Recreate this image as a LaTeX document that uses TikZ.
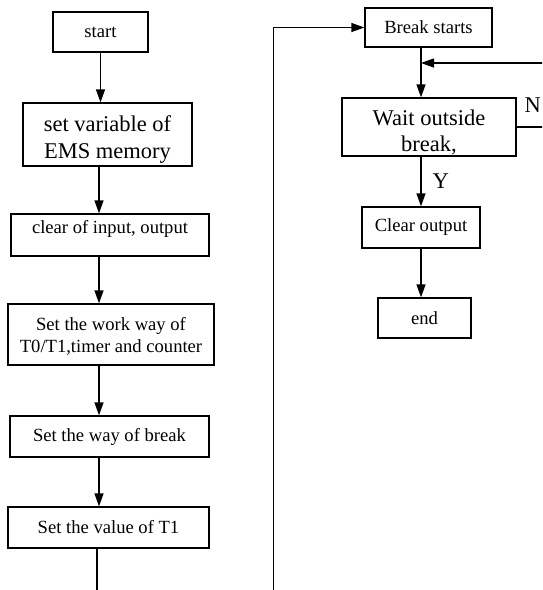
\documentclass[tikz,border=0pt]{standalone}
\usepackage{fontspec}
\setmainfont{Liberation Serif}
\usetikzlibrary{arrows.meta}
\begin{document}
\begin{tikzpicture}[x=1pt,y=-1pt,line width=1.3pt,
  box/.style={draw,inner sep=0pt,align=center,font=\fontsize{18.6}{22}\selectfont},
  bigbox/.style={box,font=\fontsize{22.5}{26.3}\selectfont},
  arr/.style={-{Triangle[length=13pt,width=9pt]}}]
\useasboundingbox (0,0) rectangle (542,590);
\clip (0,0) rectangle (542,590);
% left column
\node[box,minimum width=95pt,minimum height=40pt] (start) at (100.5,32) {start};
\node[bigbox,minimum width=169pt,minimum height=63pt,text height=52pt] (ems) at (107.5,134.5) {set variable of\\EMS memory};
\node[box,minimum width=198pt,minimum height=42pt,text depth=16pt] (clr) at (110,235) {clear of input, output};
\node[box,minimum width=206pt,minimum height=61pt,text height=39pt] (work) at (111,334.5) {Set the work way of\\T0/T1,timer and counter};
\node[box,minimum width=199pt,minimum height=41pt] (brkway) at (109.5,436.5) {Set the way of break};
\node[box,minimum width=201pt,minimum height=41pt] (setT) at (108.5,527.5) {Set the value of T1};
% right column
\node[box,minimum width=127pt,minimum height=39pt] (brk) at (428.5,27.5) {Break starts};
\node[bigbox,minimum width=174pt,minimum height=58pt,text height=52.5pt] (wait) at (429,127) {Wait outside\\break,};
\node[box,minimum width=118pt,minimum height=41pt] (clrout) at (421,227.5) {Clear output};
\node[box,minimum width=93pt,minimum height=40pt] (end) at (424.5,318) {end};
\node[anchor=north east,inner sep=0pt,font=\fontsize{22.5}{26}\selectfont] (nlab) at (541.5,97) {N};
\coordinate (lc) at (99,0);
\coordinate (rc) at (421,0);
\coordinate (tail) at (97,600);
\coordinate (loopbot) at (273.5,600);
\coordinate (fbtop) at (556,63);
% connectors
\draw[arr] (start.south) -- (start.south |- ems.north);
\draw[arr] (ems.south -| lc) -- (clr.north -| lc);
\draw[arr] (clr.south -| lc) -- (work.north -| lc);
\draw[arr] (work.south -| lc) -- (brkway.north -| lc);
\draw[arr] (brkway.south -| lc) -- (setT.north -| lc);
\draw (setT.south -| tail) -- (tail);
\draw[arr] (loopbot) |- (brk.west);
\draw[arr] (brk.south -| rc) -- (wait.north -| rc);
\draw[arr] (wait.south -| rc) -- (clrout.north -| rc)
  node[midway,right=11pt,inner sep=0pt,font=\fontsize{22.5}{26}\selectfont] (ylab) {Y};
\draw[arr] (clrout.south -| rc) -- (end.north -| rc);
\draw[arr] (wait.east) -| (fbtop) -- (fbtop -| rc);
\end{tikzpicture}
\end{document}
